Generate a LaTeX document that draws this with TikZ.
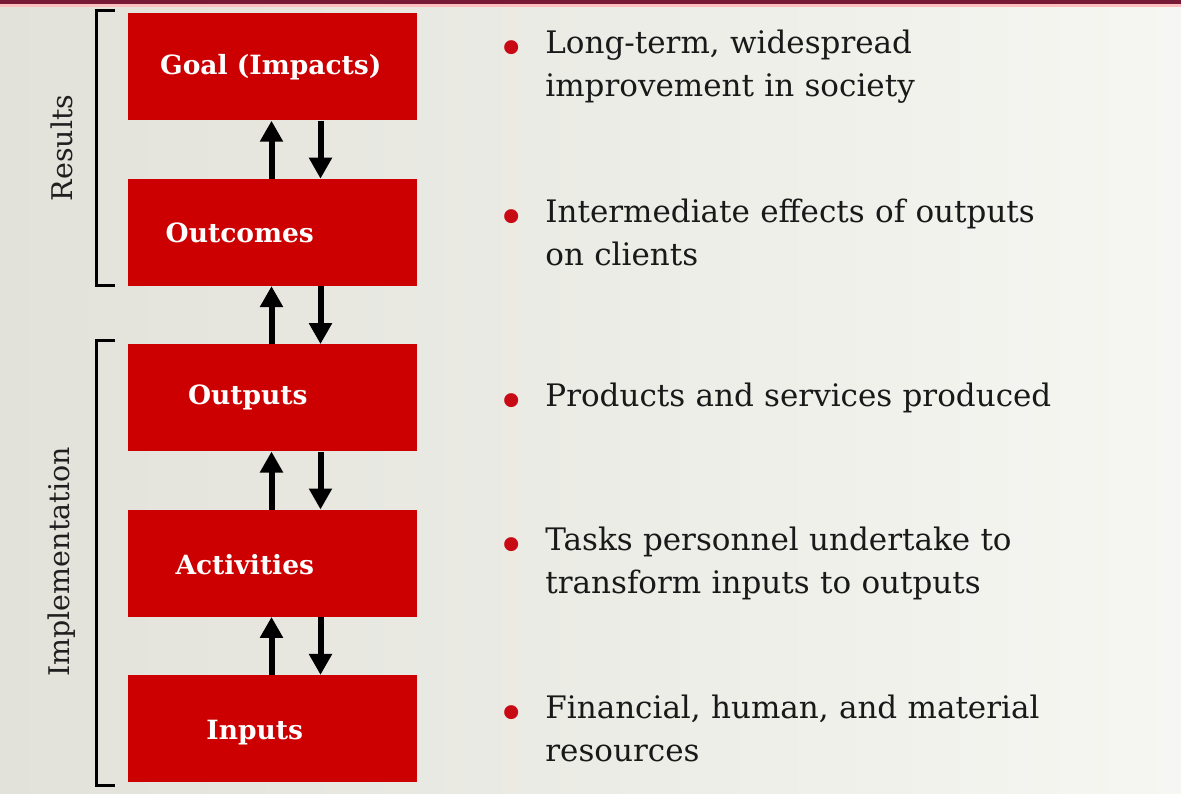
\documentclass[tikz,border=0pt]{standalone}
\usepackage{fontspec}
\setmainfont{DejaVu Serif}
\usetikzlibrary{positioning,arrows.meta}
\definecolor{boxred}{RGB}{204,0,0}
\definecolor{bulletred}{RGB}{200,10,20}
\definecolor{barmaroon}{RGB}{120,25,55}
\definecolor{bgleft}{RGB}{226,226,218}
\definecolor{bgright}{RGB}{246,246,242}
\newcommand{\bul}{\makebox[0pt][r]{\smash{\textcolor{bulletred}{\raisebox{-12pt}{\scalebox{1.55}{\textbullet}}}}\hspace{20pt}}}

\begin{document}
\begin{tikzpicture}[
  x=1pt, y=-1pt,
  node distance=58pt and 128pt,
  stage/.style={fill=boxred,minimum width=289pt,minimum height=107pt,inner sep=0pt},
  stagetext/.style={text=white,inner sep=0pt,font=\fontsize{26.5}{30}\selectfont\bfseries},
  desc/.style={anchor=west,text width=600pt,align=left,inner sep=0pt,
    font=\fontsize{31}{43}\selectfont,text=black!90},
  flow/.style={line width=6pt,-{Triangle[width=22pt,length=21pt]}},
  brace/.style={line width=3pt},
  side/.style={rotate=90,font=\fontsize{28.5}{30}\selectfont,text=black!88}
]
\useasboundingbox (0,0) rectangle (1181,794);
\shade[left color=bgleft,right color=bgright] (0,0) rectangle (1181,794);
\fill[barmaroon] (0,0) rectangle (1181,4);
\fill[red!25] (0,4) rectangle (1181,7);

\node[stage] (goal) at (272.5,67) {};
\node[stage,below=of goal] (outcomes) {};
\node[stage,below=of outcomes] (outputs) {};
\node[stage,below=of outputs] (activities) {};
\node[stage,below=of activities] (inputs) {};

% stage labels, set off centre as in the slide
\node[stagetext] (tgoal) at ([xshift=143pt]goal.west) {Goal (Impacts)};
\node[stagetext] (toutcomes) at ([xshift=112pt]outcomes.west) {Outcomes};
\node[stagetext] (toutputs) at ([xshift=120pt]outputs.west) {Outputs};
\node[stagetext] (tactivities) at ([xshift=117pt,yshift=-1pt]activities.west) {Activities};
\node[stagetext] (tinputs) at ([xshift=127pt,yshift=-4pt]inputs.west) {Inputs};

% arrows between the stages
\foreach \lo/\hi in {outcomes/goal,outputs/outcomes,activities/outputs,inputs/activities}{
  \draw[flow] ([xshift=-1pt]\lo.north) -- ([xshift=-1pt]\hi.south);
  \draw[flow] ([xshift=48pt]\hi.south) -- ([xshift=48pt]\lo.north);
}

% descriptions
\node[desc,right=of goal] (dgoal) {\bul Long-term, widespread\\improvement in society};
\node[desc,right=of outcomes] (doutcomes) {\bul Intermediate effects of outputs\\on clients};
\node[desc,right=of outputs] (doutputs) {\bul Products and services produced};
\node[desc,right=of activities] (dactivities) {\bul Tasks personnel undertake to\\transform inputs to outputs};
\node[desc,right=of inputs] (dinputs) {\bul Financial, human, and material\\resources};

% brackets
\coordinate (rtop) at (115,11);
\coordinate (rbot) at (115,286);
\coordinate (itop) at (115,341);
\coordinate (ibot) at (115,785);
\draw[brace] (rtop) -| (96,286) -- (rbot);
\draw[brace] (itop) -| (96,785) -- (ibot);
\node[side] (results) at (62,148) {Results};
\node[side] (impl) at (62,562) {Implementation};
\end{tikzpicture}
\end{document}
